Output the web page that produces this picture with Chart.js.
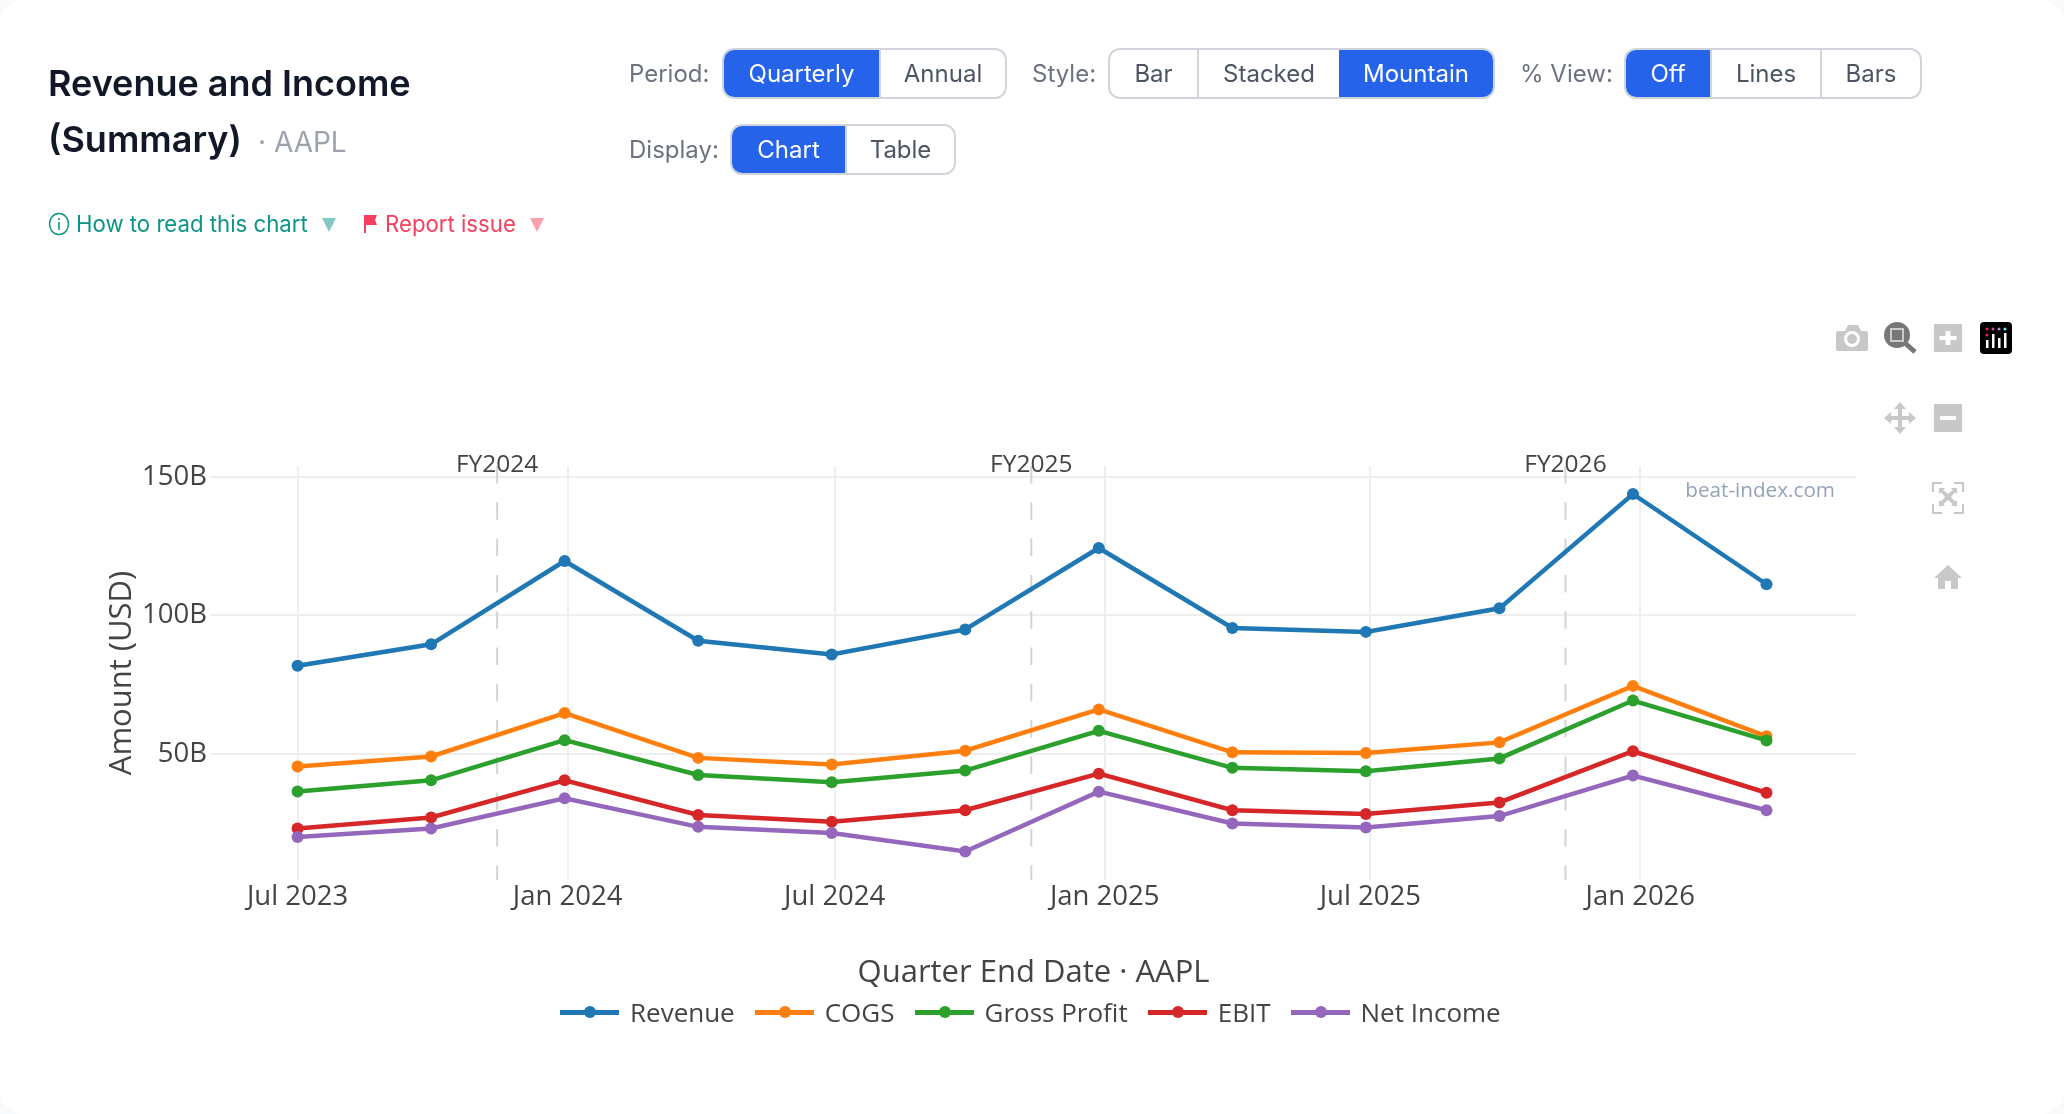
<!DOCTYPE html>
<html lang="en">
<head>
    <meta charset="UTF-8">
    <title>Revenue and Income (Summary) - AAPL</title>
    <script src="https://cdnjs.cloudflare.com/ajax/libs/Chart.js/4.4.1/chart.umd.min.js"></script>
    <style>
        html, body { margin: 0; padding: 0; background: #f9fafb; }
        body { width: 2064px; height: 1114px; overflow: hidden; position: relative; font-family: Inter, sans-serif; }
        .card { position: absolute; left: 0; top: 0; width: 2064px; height: 1114px; background: #fff; border-radius: 24px; }
        #chart { position: absolute; left: 0; top: 0; }
        .abs { position: absolute; white-space: nowrap; }
        .title { left: 48px; font-size: 36px; font-weight: 600; color: #111827; line-height: 56px; }
        .ticker { left: 258px; top: 122px; font-size: 28px; color: #9ca3af; line-height: 40px; }
        .lbl { font-size: 24px; color: #6b7280; line-height: 51px; }
        .group { display: flex; height: 47px; border: 2px solid #d1d5db; border-radius: 12px; overflow: hidden; background: #fff; }
        .group span { display: block; text-align: center; font-size: 24px; line-height: 47px; color: #4b5563; border-left: 2px solid #d1d5db; box-sizing: border-box; }
        .group span:first-child { border-left: 0; }
        .group span.on { background: #2563eb; color: #fff; border-left: 0; }
        .link { font-size: 22.2px; line-height: 30px; top: 209px; }
        .teal { color: #0d9488; }
        .rose { color: #f43f5e; }
        .tri { top: 218px; width: 0; height: 0; border-left: 7px solid transparent; border-right: 7px solid transparent; }
        #legend { position: absolute; left: 560px; top: 995px; height: 34px; display: flex; align-items: center; font-family: 'Open Sans', sans-serif; font-size: 26px; color: #444; }
        #legend .key { position: relative; width: 59px; height: 5px; margin-right: 11px; }
        #legend .key i { position: absolute; left: 24px; top: -3.5px; width: 12px; height: 12px; border-radius: 50%; background: inherit; }
        #legend .entry { display: flex; align-items: center; margin-right: 20px; }
        .icon { position: absolute; }
    </style>
</head>
<body>
    <div class="card"></div>
    <canvas id="chart" width="2064" height="1114"></canvas>

    <div class="abs title" style="top:55px">Revenue and Income</div>
    <div class="abs title" style="top:111px">(Summary)</div>
    <div class="abs ticker">· AAPL</div>

    <div class="abs lbl" style="left:629px;top:48px">Period:</div>
    <div class="abs group" style="left:722px;top:48px">
        <span class="on" style="width:155px">Quarterly</span><span style="width:126px">Annual</span>
    </div>
    <div class="abs lbl" style="left:1032px;top:48px">Style:</div>
    <div class="abs group" style="left:1108px;top:48px">
        <span style="width:87px">Bar</span><span style="width:142px">Stacked</span><span class="on" style="width:154px">Mountain</span>
    </div>
    <div class="abs lbl" style="left:1520px;top:48px">% View:</div>
    <div class="abs group" style="left:1624px;top:48px">
        <span class="on" style="width:84px">Off</span><span style="width:110px">Lines</span><span style="width:100px">Bars</span>
    </div>
    <div class="abs lbl" style="left:629px;top:124px">Display:</div>
    <div class="abs group" style="left:730px;top:124px">
        <span class="on" style="width:113px">Chart</span><span style="width:109px">Table</span>
    </div>

    <svg class="icon" style="left:48px;top:212px" width="22" height="24" viewBox="0 0 22 24">
        <ellipse cx="11" cy="12" rx="9.5" ry="10.5" fill="none" stroke="#0d9488" stroke-width="1.5"/>
        <rect x="10.2" y="10" width="1.6" height="8" fill="#0d9488"/><rect x="10.2" y="6" width="1.6" height="2" fill="#0d9488"/>
    </svg>
    <div class="abs link teal" style="left:76px">How to read this chart</div>
    <div class="abs tri" style="left:322px;border-top:14px solid #0d9488;opacity:.5"></div>
    <svg class="icon" style="left:363px;top:215px" width="15" height="18" viewBox="0 0 15 18">
        <path d="M1 0h13l-2 5 2 5H3v8H1z" fill="#f43f5e"/>
    </svg>
    <div class="abs link rose" style="left:385px">Report issue</div>
    <div class="abs tri" style="left:530px;border-top:14px solid #f43f5e;opacity:.5"></div>

    <!-- plot toolbar -->
    <svg class="icon" style="left:1830px;top:315px" width="190" height="280" viewBox="1830 315 190 280">
        <g fill="#c8c8c8">
            <path d="M1838 331h7l3-6h10l3 6h5q2 0 2 2v16q0 2-2 2h-28q-2 0-2-2v-16q0-2 2-2z"/>
            <circle cx="1852" cy="339" r="8" fill="#fff"/><circle cx="1852" cy="339" r="5"/>
            <path d="M1934 324h28v28h-28zM1945.500 331v5h-6v4h6v5h5v-5h6v-4h-6v-5z" fill-rule="evenodd"/>
            <path d="M1934 404h28v28h-28zM1940 416v4h16v-4z" fill-rule="evenodd"/>
            <path d="M1900 402l6 7h-4v7h7v-4l7 6-7 6v-4h-7v7h4l-6 7-6-7h4v-7h-7v4l-7-6 7-6v4h7v-7h-4z"/>
            <path d="M1932 482h10v2h-8v8h-2zM1954 482h10v10h-2v-8h-8zM1932 504h2v8h8v2h-10zM1962 504h2v10h-10v-2h8z"/>
            <path d="M1939 488h6l-1.500 2 4.500 4 4.500-4-1.500-2h6v6l-2-1.500-4 4.500 4 4.500 2-1.500v6h-6l1.500-2-4.500-4-4.500 4 1.500 2h-6v-6l2 1.500 4-4.500-4-4.500-2 1.500z"/>
            <path d="M1948 565l14 13h-4v11h-7v-8h-6v8h-7v-11h-4z"/>
        </g>
        <circle cx="1897" cy="335" r="13" fill="#777"/>
        <rect x="1890" y="328" width="14" height="14" fill="#ccc"/>
        <rect x="1892" y="330" width="10" height="10" fill="#777"/>
        <path d="M1905 343l10 9" stroke="#777" stroke-width="5"/>
        <rect x="1980" y="322" width="32" height="32" rx="4" fill="#000"/>
        <g fill="#ef1f5f"><circle cx="1987" cy="329" r="1.500"/><circle cx="1987" cy="335" r="1.500"/></g>
        <circle cx="1993" cy="329" r="1.500" fill="#d34f9a"/><circle cx="1999" cy="329" r="1.500" fill="#b98ad0"/><circle cx="2005" cy="329" r="1.500" fill="#7fe0ef"/>
        <g fill="#fff"><rect x="1986" y="340" width="2.500" height="8"/><rect x="1992" y="334" width="2.500" height="14"/><rect x="1998" y="338" width="2.500" height="10"/><rect x="2004" y="333" width="2.500" height="15"/></g>
    </svg>

    <div id="legend"></div>

    <script>
        // Quarter end dates and reported figures, in billions of USD
        const quarterEnds = ['2023-07-01', '2023-09-30', '2023-12-30', '2024-03-30', '2024-06-29', '2024-09-28',
            '2024-12-28', '2025-03-29', '2025-06-28', '2025-09-27', '2025-12-27', '2026-03-28'];
        const revenue = [81.8, 89.5, 119.6, 90.8, 85.8, 94.9, 124.3, 95.4, 94.0, 102.5, 143.8, 111.2];
        const cogs = [45.4, 49.0, 64.7, 48.5, 46.1, 51.1, 66.0, 50.5, 50.3, 54.1, 74.5, 56.3];
        const grossProfit = [36.4, 40.4, 54.9, 42.3, 39.7, 43.9, 58.3, 44.9, 43.7, 48.3, 69.2, 54.8];
        const ebit = [23.0, 27.0, 40.4, 27.9, 25.4, 29.6, 42.8, 29.6, 28.2, 32.4, 50.9, 35.9];
        const netIncome = [19.9, 23.0, 33.9, 23.6, 21.4, 14.7, 36.3, 24.8, 23.4, 27.5, 42.1, 29.6];

        const seriesNames = ['Revenue', 'COGS', 'Gross Profit', 'EBIT', 'Net Income'];
        const seriesValues = [revenue, cogs, grossProfit, ebit, netIncome];
        const seriesColors = ['#1f77b4', '#ff7f0e', '#2ca02c', '#d62728', '#9467bd'];

        const xTickDates = ['2023-07-01', '2024-01-01', '2024-07-01', '2025-01-01', '2025-07-01', '2026-01-01'];
        const xTickLabels = ['Jul 2023', 'Jan 2024', 'Jul 2024', 'Jan 2025', 'Jul 2025', 'Jan 2026'];
        const yTicks = [50, 100, 150];
        const fiscalDates = ['2023-11-14', '2024-11-12', '2025-11-11'];
        const fiscalLabels = ['FY2024', 'FY2025', 'FY2026'];

        const FONT = "'Open Sans', sans-serif";
        const toMs = d => Date.parse(d + 'T00:00:00Z');

        // Dashed fiscal year separators and the site mark, placed with the chart's scales
        const fiscalLines = {
            id: 'fiscalLines',
            beforeDatasetsDraw(chart) {
                const { ctx, chartArea, scales } = chart;
                ctx.save();
                fiscalDates.forEach((d, i) => {
                    const x = scales.x.getPixelForValue(toMs(d));
                    ctx.strokeStyle = '#d4d4d4';
                    ctx.lineWidth = 2;
                    ctx.setLineDash([17.5, 18.8]);
                    ctx.beginPath();
                    ctx.moveTo(x, chartArea.top);
                    ctx.lineTo(x, chartArea.bottom);
                    ctx.stroke();
                    ctx.setLineDash([]);
                    ctx.font = '24.5px ' + FONT;
                    ctx.fillStyle = '#444';
                    ctx.textAlign = 'center';
                    ctx.textBaseline = 'middle';
                    ctx.fillText(fiscalLabels[i], x, 465);
                });
                ctx.font = '20.7px ' + FONT;
                ctx.fillStyle = '#94a3b8';
                ctx.textAlign = 'right';
                ctx.textBaseline = 'middle';
                ctx.fillText('beat-index.com', 1835, 491);
                ctx.restore();
            }
        };

        new Chart(document.getElementById('chart'), {
            type: 'line',
            data: {
                datasets: seriesNames.map((name, i) => ({
                    label: name,
                    data: quarterEnds.map((d, j) => ({ x: toMs(d), y: seriesValues[i][j] })),
                    borderColor: seriesColors[i],
                    backgroundColor: seriesColors[i],
                    borderWidth: 4.5,
                    pointRadius: 6,
                    pointHoverRadius: 6,
                    pointBorderWidth: 0,
                    tension: 0,
                    fill: false,
                    order: seriesNames.length - i
                }))
            },
            options: {
                responsive: false,
                animation: false,
                layout: { padding: { left: 0, top: 466, right: 208, bottom: 122 } },
                plugins: { legend: { display: false }, tooltip: { enabled: false } },
                scales: {
                    x: {
                        type: 'linear',
                        min: toMs('2023-05-03'),
                        max: toMs('2026-05-28'),
                        afterBuildTicks(axis) { axis.ticks = xTickDates.map(d => ({ value: toMs(d) })); },
                        afterFit(axis) { axis.height = 112; },
                        grid: { color: '#eeeeee', lineWidth: 2, drawTicks: false },
                        border: { display: false },
                        ticks: {
                            maxRotation: 0,
                            autoSkip: false,
                            padding: 1,
                            color: '#444',
                            font: { family: FONT, size: 27.5 },
                            callback: v => xTickLabels[xTickDates.findIndex(d => toMs(d) === v)]
                        },
                        title: {
                            display: true,
                            text: 'Quarter End Date · AAPL',
                            color: '#444',
                            font: { family: FONT, size: 31 },
                            padding: 0
                        }
                    },
                    y: {
                        min: 4.4,
                        max: 153.9,
                        afterBuildTicks(axis) { axis.ticks = yTicks.map(v => ({ value: v })); },
                        afterFit(axis) { axis.width = 211; },
                        grid: { color: '#eeeeee', lineWidth: 2, drawTicks: false },
                        border: { display: false },
                        ticks: {
                            padding: 4,
                            color: '#444',
                            font: { family: FONT, size: 27.5 },
                            callback: v => v + 'B'
                        },
                        title: {
                            display: true,
                            text: 'Amount (USD)',
                            color: '#444',
                            font: { family: FONT, size: 31 },
                            padding: { top: 104 }
                        }
                    }
                }
            },
            plugins: [fiscalLines]
        });

        // Legend row with line-and-dot keys
        const legend = document.getElementById('legend');
        seriesNames.forEach((name, i) => {
            const entry = document.createElement('div');
            entry.className = 'entry';
            entry.innerHTML = `<div class="key" style="background:${seriesColors[i]}"><i></i></div><span>${name}</span>`;
            legend.appendChild(entry);
        });
    </script>
</body>
</html>
